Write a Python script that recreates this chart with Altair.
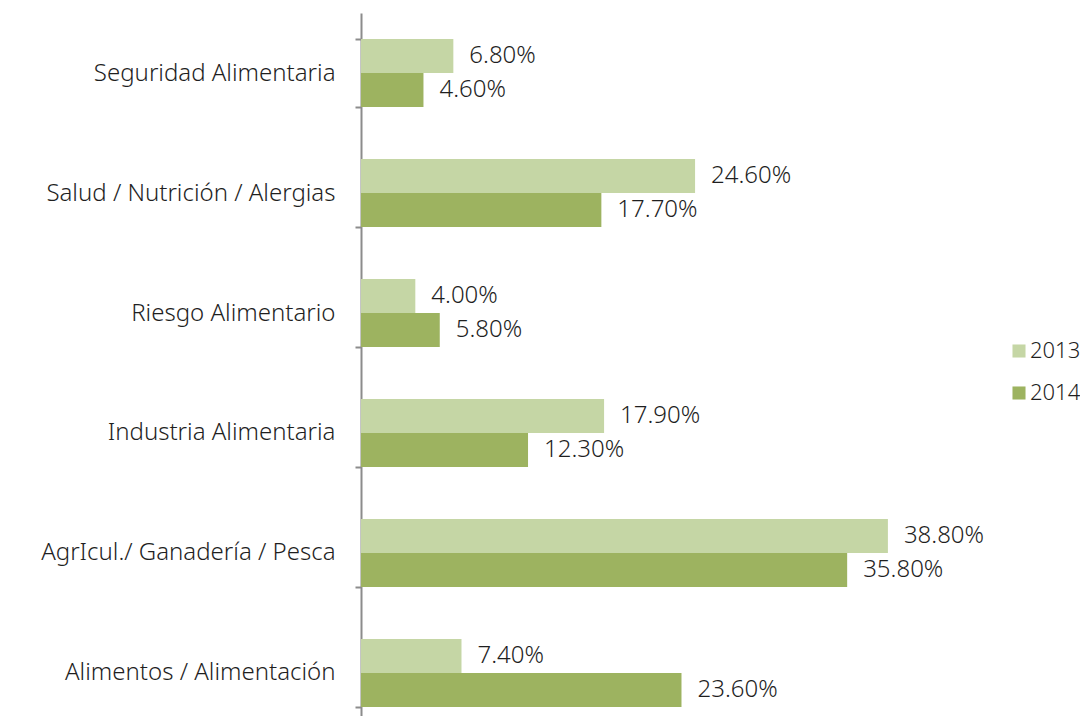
import altair as alt
import pandas as pd

categories = [
    "Seguridad Alimentaria",
    "Salud / Nutrición / Alergias",
    "Riesgo Alimentario",
    "Industria Alimentaria",
    "AgrIcul./ Ganadería / Pesca",
    "Alimentos / Alimentación",
]
years = ["2013", "2014"]
values_2013 = [0.068, 0.246, 0.040, 0.179, 0.388, 0.074]
values_2014 = [0.046, 0.177, 0.058, 0.123, 0.358, 0.236]

rows = []
for c, a, b in zip(categories, values_2013, values_2014):
    rows.append({"cat": c, "year": "2013", "value": a})
    rows.append({"cat": c, "year": "2014", "value": b})
df = pd.DataFrame(rows)

FONT = "Noto Sans"
TXT = "#1f1f1f"
colors = ["#c5d6a5", "#9db360"]

y_axis = alt.Axis(
    title=None,
    grid=False,
    domainColor="#8c8c8c",
    domainWidth=2,
    tickColor="#8c8c8c",
    tickWidth=2,
    tickSize=6,
    tickBand="extent",
    labelFont=FONT,
    labelFontSize=24,
    labelFontWeight=300,
    labelColor=TXT,
    labelPadding=20,
    labelLimit=400,
)
y_scale = alt.Scale(paddingInner=0.4333, paddingOuter=0.2167, range=[0, 720])
x_scale = alt.Scale(domain=[0, 0.5], nice=False)
yoff = alt.YOffset("year:N", scale=alt.Scale(paddingInner=0, paddingOuter=0))

bars = alt.Chart(df).mark_bar().encode(
    y=alt.Y("cat:N", sort=categories, scale=y_scale, axis=y_axis),
    x=alt.X("value:Q", scale=x_scale, axis=None),
    yOffset=yoff,
    color=alt.Color(
        "year:N",
        scale=alt.Scale(domain=years, range=colors),
        legend=alt.Legend(
            title=None,
            orient="none",
            legendX=647,
            legendY=327,
            padding=0,
            symbolType="square",
            symbolSize=170,
            symbolStrokeWidth=0,
            labelFont=FONT,
            labelFontSize=22,
            labelFontWeight=300,
            labelColor=TXT,
            rowPadding=20,
            labelOffset=0,
        ),
    ),
)

text = alt.Chart(df).mark_text(
    align="left", baseline="middle", dx=16, font=FONT, fontSize=24,
    fontWeight=300, color=TXT
).encode(
    y=alt.Y("cat:N", sort=categories, scale=y_scale, axis=y_axis),
    x=alt.X("value:Q", scale=x_scale, axis=None),
    yOffset=yoff,
    text=alt.Text("value:Q", format=".2%"),
)

chart = (
    alt.layer(bars, text)
    .properties(
        width=679,
        height=703,
        autosize=alt.AutoSizeParams(type="none"),
        padding={"left": 353, "top": 5, "right": 40, "bottom": 0},
        background="white",
    )
    .configure_view(stroke="transparent", strokeWidth=0)
)

chart.save("out.html", embed_options={"renderer": "svg", "actions": False})
